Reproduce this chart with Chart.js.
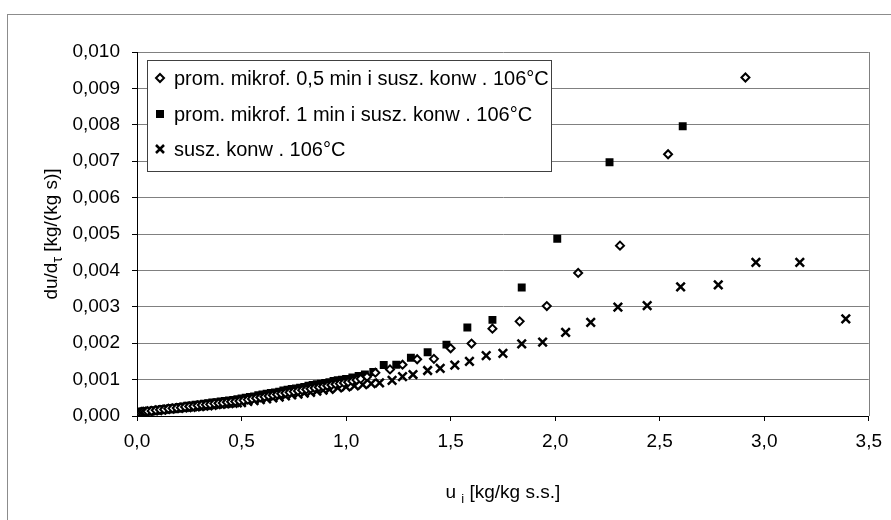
<!DOCTYPE html>
<html>
<head>
<meta charset="utf-8">
<script src="https://cdn.jsdelivr.net/npm/chart.js@4/dist/chart.umd.min.js"></script>
<style>
	html, body { margin: 0; padding: 0; background: #fff; }
	#chart { display: block; }
</style>
</head>
<body>
<canvas id="chart" width="891" height="520"></canvas>
<script>
// [u_i, du/dtau] pairs

// prom. mikrof. 0,5 min i susz. konw. 106°C
const prom05 = [
	[0.00, 0.00010], [0.01, 0.00010], [0.02, 0.00011], [0.03, 0.00012], [0.04, 0.00012], [0.05, 0.00013],
	[0.07, 0.00014], [0.09, 0.00016], [0.11, 0.00017], [0.13, 0.00018], [0.15, 0.00020], [0.17, 0.00021],
	[0.19, 0.00022], [0.21, 0.00023], [0.23, 0.00025], [0.25, 0.00026], [0.27, 0.00027], [0.29, 0.00029],
	[0.31, 0.00030], [0.33, 0.00031], [0.35, 0.00032], [0.37, 0.00034], [0.39, 0.00035], [0.41, 0.00036],
	[0.43, 0.00038], [0.45, 0.00039], [0.47, 0.00040], [0.49, 0.00041], [0.51, 0.00043], [0.53, 0.00045],
	[0.55, 0.00047], [0.57, 0.00049], [0.59, 0.00051], [0.61, 0.00053], [0.63, 0.00055], [0.65, 0.00057],
	[0.67, 0.00059], [0.69, 0.00061], [0.71, 0.00063], [0.73, 0.00065], [0.75, 0.00067], [0.77, 0.00069],
	[0.79, 0.00071], [0.81, 0.00073], [0.83, 0.00075], [0.85, 0.00077], [0.87, 0.00079], [0.89, 0.00081],
	[0.91, 0.00083], [0.93, 0.00085], [0.95, 0.00087], [0.97, 0.00089], [0.99, 0.00091], [1.01, 0.00093],
	[1.03, 0.00096], [1.05, 0.00099], [1.07, 0.00102], [1.10, 0.00108], [1.14, 0.00119], [1.21, 0.00128],
	[1.27, 0.00141], [1.34, 0.00156], [1.42, 0.00157], [1.50, 0.00186], [1.60, 0.00199], [1.70, 0.00240],
	[1.83, 0.00260], [1.96, 0.00302], [2.11, 0.00393], [2.31, 0.00468], [2.54, 0.00719], [2.91, 0.00930],
];

// prom. mikrof. 1 min i susz. konw. 106°C
const prom1 = [
	[0.00, 0.00009], [0.01, 0.00011], [0.02, 0.00011], [0.03, 0.00012], [0.05, 0.00014], [0.06, 0.00014],
	[0.08, 0.00016], [0.10, 0.00017], [0.12, 0.00019], [0.14, 0.00020], [0.16, 0.00022], [0.18, 0.00023],
	[0.20, 0.00025], [0.22, 0.00026], [0.24, 0.00028], [0.26, 0.00029], [0.28, 0.00031], [0.30, 0.00032],
	[0.32, 0.00034], [0.34, 0.00035], [0.36, 0.00037], [0.38, 0.00038], [0.40, 0.00040], [0.42, 0.00041],
	[0.44, 0.00043], [0.46, 0.00044], [0.48, 0.00046], [0.50, 0.00048], [0.52, 0.00050], [0.54, 0.00052],
	[0.56, 0.00054], [0.58, 0.00057], [0.60, 0.00059], [0.62, 0.00061], [0.64, 0.00063], [0.66, 0.00065],
	[0.68, 0.00067], [0.70, 0.00070], [0.72, 0.00072], [0.74, 0.00074], [0.76, 0.00076], [0.78, 0.00078],
	[0.80, 0.00080], [0.82, 0.00083], [0.84, 0.00085], [0.86, 0.00087], [0.88, 0.00089], [0.90, 0.00091],
	[0.92, 0.00093], [0.94, 0.00096], [0.96, 0.00098], [0.98, 0.00100], [1.00, 0.00102], [1.03, 0.00106],
	[1.06, 0.00110], [1.09, 0.00114], [1.13, 0.00121], [1.18, 0.00140], [1.24, 0.00141], [1.31, 0.00160],
	[1.39, 0.00175], [1.48, 0.00196], [1.58, 0.00243], [1.70, 0.00264], [1.84, 0.00353], [2.01, 0.00487],
	[2.26, 0.00697], [2.61, 0.00796],
];

// susz. konw. 106°C
const konw = [
	[0.00, 0.00009], [0.02, 0.00010], [0.04, 0.00012], [0.06, 0.00013], [0.08, 0.00014], [0.10, 0.00015],
	[0.12, 0.00016], [0.14, 0.00018], [0.16, 0.00019], [0.18, 0.00020], [0.20, 0.00021], [0.22, 0.00022],
	[0.24, 0.00023], [0.26, 0.00024], [0.28, 0.00025], [0.30, 0.00026], [0.32, 0.00027], [0.34, 0.00028],
	[0.36, 0.00029], [0.38, 0.00031], [0.40, 0.00032], [0.42, 0.00033], [0.44, 0.00034], [0.46, 0.00035],
	[0.48, 0.00036], [0.50, 0.00037], [0.53, 0.00040], [0.56, 0.00042], [0.59, 0.00045], [0.62, 0.00047],
	[0.65, 0.00050], [0.68, 0.00052], [0.71, 0.00055], [0.74, 0.00058], [0.77, 0.00060], [0.80, 0.00063],
	[0.83, 0.00065], [0.86, 0.00068], [0.89, 0.00071], [0.92, 0.00073], [0.96, 0.00077], [1.00, 0.00080],
	[1.04, 0.00083], [1.08, 0.00086], [1.12, 0.00089], [1.16, 0.00091], [1.22, 0.00098], [1.27, 0.00108],
	[1.32, 0.00114], [1.39, 0.00125], [1.45, 0.00131], [1.52, 0.00140], [1.59, 0.00150], [1.67, 0.00166],
	[1.75, 0.00172], [1.84, 0.00198], [1.94, 0.00203], [2.05, 0.00230], [2.17, 0.00257], [2.30, 0.00299],
	[2.44, 0.00303], [2.60, 0.00355], [2.78, 0.00360], [2.96, 0.00422], [3.17, 0.00422], [3.39, 0.00267],
];

const seriesLabels = [
	'prom. mikrof. 0,5 min i susz. konw . 106°C',
	'prom. mikrof. 1 min i susz. konw . 106°C',
	'susz. konw . 106°C',
];

const FONT = '"Liberation Sans", Arial, sans-serif';

const toPoints = pairs => pairs.map(p => ({ x: p[0], y: p[1] }));

// legend symbols (diamond, square, cross)
function drawMarker(ctx, kind, x, y) {
	ctx.save();
	ctx.strokeStyle = '#000';
	ctx.fillStyle = '#000';
	if (kind === 0) {
		ctx.lineWidth = 2;
		ctx.fillStyle = '#fff';
		ctx.beginPath();
		ctx.moveTo(x, y - 4); ctx.lineTo(x + 4, y); ctx.lineTo(x, y + 4); ctx.lineTo(x - 4, y);
		ctx.closePath();
		ctx.fill(); ctx.stroke();
	} else if (kind === 1) {
		ctx.fillRect(x - 4, y - 4, 8, 8);
	} else {
		ctx.lineWidth = 2.5;
		ctx.beginPath();
		ctx.moveTo(x - 4, y - 4); ctx.lineTo(x + 4, y + 4);
		ctx.moveTo(x + 4, y - 4); ctx.lineTo(x - 4, y + 4);
		ctx.stroke();
	}
	ctx.restore();
}

const framePlugin = {
	id: 'frame',
	beforeDraw(chart) {
		const ctx = chart.ctx;
		ctx.save();
		ctx.fillStyle = '#fff';
		ctx.fillRect(0, 0, chart.width, chart.height);
		ctx.strokeStyle = '#8c8c8c';
		ctx.lineWidth = 1;
		ctx.strokeRect(7.5, 14.5, 900, 520);
		ctx.restore();
	},
	beforeDatasetsDraw(chart) {
		const a = chart.chartArea;
		const ctx = chart.ctx;
		ctx.save();
		ctx.strokeStyle = '#808080';
		ctx.lineWidth = 1;
		ctx.beginPath();
		ctx.moveTo(Math.round(a.right) + 0.5, a.top);
		ctx.lineTo(Math.round(a.right) + 0.5, a.bottom);
		ctx.stroke();
		ctx.restore();
	},
	afterDraw(chart) {
		const ctx = chart.ctx;
		const a = chart.chartArea;
		ctx.save();

		// legend box inside the plot
		ctx.fillStyle = '#fff';
		ctx.fillRect(147.5, 60.5, 404, 111);
		ctx.strokeStyle = '#404040';
		ctx.lineWidth = 1;
		ctx.strokeRect(147.5, 60.5, 404, 111);
		ctx.font = '20px ' + FONT;
		ctx.textBaseline = 'middle';
		const rows = [78, 114, 149];
		seriesLabels.forEach((label, i) => {
			drawMarker(ctx, i, 160, rows[i]);
			ctx.fillStyle = '#000';
			ctx.fillText(label, 174, rows[i] + 1);
		});

		// x axis title with subscript
		ctx.fillStyle = '#000';
		ctx.textBaseline = 'alphabetic';
		ctx.font = '19px ' + FONT;
		const xMain = ' [kg/kg s.s.]';
		const wu = ctx.measureText('u ').width;
		const wm = ctx.measureText(xMain).width;
		ctx.font = '13px ' + FONT;
		const wi = ctx.measureText('i').width;
		const sx = (a.left + a.right) / 2 - (wu + wi + wm) / 2;
		ctx.font = '19px ' + FONT;
		ctx.fillText('u ', sx, 498);
		ctx.fillText(xMain, sx + wu + wi, 498);
		ctx.font = '13px ' + FONT;
		ctx.fillText('i', sx + wu, 503);

		// y axis title, rotated, with subscript tau
		ctx.translate(57, (a.top + a.bottom) / 2);
		ctx.rotate(-Math.PI / 2);
		const y1 = 'du/d', y2 = ' [kg/(kg s)]';
		ctx.font = '19px ' + FONT;
		const w1 = ctx.measureText(y1).width;
		const w3 = ctx.measureText(y2).width;
		ctx.font = '14px ' + FONT;
		const w2 = ctx.measureText('τ').width;
		const ty = -(w1 + w2 + w3) / 2;
		ctx.font = '19px ' + FONT;
		ctx.fillText(y1, ty, 0);
		ctx.fillText(y2, ty + w1 + w2, 0);
		ctx.font = '14px ' + FONT;
		ctx.fillText('τ', ty + w1, 5);
		ctx.restore();
	},
};

const ctx = document.getElementById('chart').getContext('2d');
new Chart(ctx, {
	type: 'scatter',
	data: {
		datasets: [
			{
				label: seriesLabels[0],
				data: toPoints(prom05),
				pointStyle: 'rectRot',
				pointRadius: 4,
				pointBorderWidth: 2,
				pointBorderColor: '#000',
				pointBackgroundColor: '#fff',
			},
			{
				label: seriesLabels[1],
				data: toPoints(prom1),
				pointStyle: 'rect',
				pointRadius: 5.6,
				pointBorderWidth: 0,
				pointBorderColor: '#000',
				pointBackgroundColor: '#000',
			},
			{
				label: seriesLabels[2],
				data: toPoints(konw),
				pointStyle: 'crossRot',
				pointRadius: 6,
				pointBorderWidth: 2.5,
				pointBorderColor: '#000',
				pointBackgroundColor: '#000',
			},
		],
	},
	options: {
		responsive: false,
		animation: false,
		layout: { padding: { top: 52, right: 14, left: 0, bottom: 0 } },
		plugins: {
			legend: { display: false },
			tooltip: { enabled: false },
		},
		scales: {
			x: {
				type: 'linear',
				min: 0,
				max: 3.5,
				afterFit(scale) { scale.height = 104; },
				border: { color: '#000', width: 1 },
				grid: { drawOnChartArea: false, drawTicks: true, tickLength: 5, tickColor: '#000' },
				ticks: {
					stepSize: 0.5,
					padding: 9,
					color: '#000',
					font: { family: FONT, size: 19 },
					callback: v => v.toFixed(1).replace('.', ','),
				},
			},
			y: {
				type: 'linear',
				min: 0,
				max: 0.01,
				afterFit(scale) { scale.width = 137; },
				border: { color: '#000', width: 1 },
				grid: { color: '#808080', drawTicks: true, tickLength: 5, tickColor: '#000' },
				ticks: {
					stepSize: 0.001,
					padding: 12,
					color: '#000',
					font: { family: FONT, size: 19 },
					callback: v => v.toFixed(3).replace('.', ','),
				},
			},
		},
	},
	plugins: [framePlugin],
});
</script>
</body>
</html>
